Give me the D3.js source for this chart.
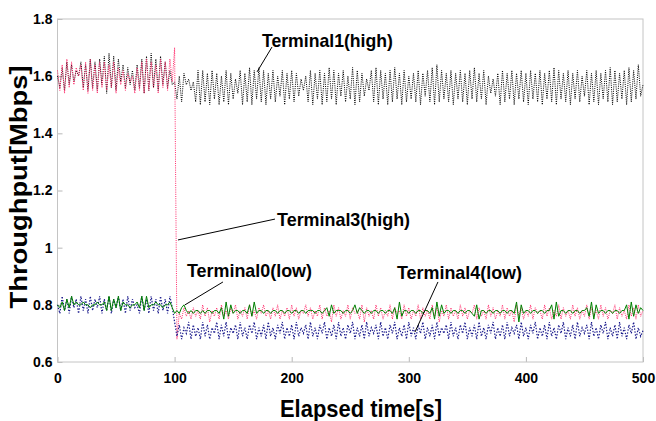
<!DOCTYPE html>
<html>
<head>
<meta charset="utf-8">
<script src="https://cdn.jsdelivr.net/npm/d3@7"></script>
<style>
  body { margin: 0; background: #fff; }
  svg { display: block; font-family: "Liberation Sans", Arial, sans-serif; }
</style>
</head>
<body>
<svg id="chart" width="656" height="421"></svg>
<script>
// throughput per terminal, sampled every 2 s from 0 to 500 s

var times = d3.range(0, 501, 2)

var terminal1 = [
  1.60,1.56,1.63,1.55,1.65,1.57,1.64,1.58,1.62,1.60,
  1.65,1.56,1.64,1.55,1.66,1.56,1.65,1.55,1.66,1.57,
  1.67,1.54,1.68,1.56,1.67,1.55,1.66,1.58,1.64,1.56,
  1.63,1.57,1.62,1.55,1.64,1.56,1.66,1.54,1.67,1.55,
  1.68,1.56,1.66,1.55,1.67,1.57,1.65,1.56,1.62,1.57,
  1.58,1.52,1.60,1.51,1.61,1.57,1.59,1.55,1.58,1.51,
  1.62,1.50,1.62,1.51,1.61,1.50,1.62,1.52,1.61,1.50,
  1.60,1.51,1.62,1.50,1.61,1.52,1.59,1.54,1.62,1.50,
  1.61,1.51,1.63,1.50,1.62,1.52,1.63,1.51,1.62,1.50,
  1.61,1.52,1.62,1.51,1.60,1.53,1.62,1.50,1.61,1.52,
  1.62,1.51,1.61,1.53,1.59,1.55,1.60,1.51,1.62,1.50,
  1.61,1.52,1.62,1.50,1.61,1.51,1.63,1.52,1.62,1.50,
  1.61,1.53,1.62,1.51,1.60,1.52,1.63,1.50,1.62,1.51,
  1.61,1.53,1.59,1.55,1.62,1.51,1.63,1.50,1.62,1.52,
  1.61,1.50,1.62,1.51,1.63,1.52,1.61,1.50,1.62,1.51,
  1.60,1.52,1.61,1.51,1.62,1.50,1.61,1.53,1.62,1.51,
  1.63,1.50,1.64,1.51,1.62,1.52,1.61,1.51,1.62,1.50,
  1.61,1.52,1.62,1.51,1.61,1.50,1.62,1.52,1.63,1.51,
  1.61,1.52,1.62,1.50,1.60,1.54,1.59,1.53,1.61,1.50,
  1.62,1.51,1.61,1.52,1.62,1.50,1.61,1.52,1.62,1.51,
  1.61,1.50,1.62,1.52,1.61,1.51,1.62,1.50,1.61,1.52,
  1.62,1.51,1.63,1.50,1.62,1.52,1.61,1.51,1.62,1.50,
  1.61,1.52,1.62,1.51,1.60,1.53,1.62,1.50,1.61,1.51,
  1.62,1.50,1.61,1.52,1.62,1.51,1.63,1.50,1.62,1.51,
  1.61,1.52,1.62,1.50,1.63,1.51,1.62,1.52,1.64,1.53,
  1.57]

var terminal3 = [
  1.62,1.55,1.64,1.54,1.66,1.56,1.65,1.57,1.63,1.60,
  1.64,1.55,1.65,1.54,1.66,1.55,1.64,1.54,1.65,1.56,
  1.65,1.55,1.64,1.56,1.65,1.54,1.63,1.57,1.62,1.55,
  1.61,1.58,1.60,1.54,1.63,1.55,1.65,1.54,1.66,1.55,
  1.65,1.56,1.64,1.54,1.66,1.56,1.65,1.55,1.66,1.58,
  1.70,0.68,0.77,0.75,0.79,0.76,0.78,0.75,0.79,0.76,
  0.78,0.75,0.80,0.76,0.79,0.74,0.78,0.76,0.79,0.75,
  0.80,0.76,0.78,0.75,0.79,0.77,0.80,0.75,0.78,0.76,
  0.79,0.75,0.80,0.76,0.78,0.75,0.79,0.77,0.80,0.76,
  0.78,0.75,0.79,0.76,0.80,0.75,0.78,0.76,0.79,0.75,
  0.80,0.76,0.79,0.75,0.78,0.77,0.80,0.76,0.79,0.75,
  0.78,0.76,0.80,0.75,0.79,0.76,0.78,0.74,0.80,0.76,
  0.79,0.75,0.78,0.76,0.80,0.75,0.79,0.77,0.78,0.75,
  0.80,0.74,0.79,0.76,0.78,0.75,0.80,0.76,0.79,0.75,
  0.78,0.76,0.80,0.75,0.79,0.77,0.78,0.75,0.80,0.76,
  0.79,0.75,0.78,0.76,0.80,0.75,0.79,0.76,0.78,0.75,
  0.80,0.76,0.79,0.74,0.78,0.76,0.80,0.75,0.79,0.76,
  0.78,0.75,0.80,0.76,0.79,0.75,0.78,0.77,0.80,0.75,
  0.79,0.76,0.78,0.75,0.80,0.76,0.79,0.75,0.78,0.76,
  0.80,0.75,0.79,0.76,0.78,0.74,0.80,0.76,0.79,0.75,
  0.78,0.76,0.80,0.75,0.79,0.77,0.78,0.75,0.80,0.76,
  0.79,0.75,0.78,0.76,0.80,0.75,0.79,0.76,0.78,0.75,
  0.80,0.76,0.79,0.75,0.78,0.76,0.80,0.75,0.79,0.76,
  0.78,0.75,0.80,0.76,0.79,0.75,0.78,0.77,0.80,0.75,
  0.79,0.76,0.78,0.75,0.80,0.76,0.79,0.75,0.80,0.76,
  0.78]

var terminal0 = [
  0.80,0.79,0.81,0.78,0.82,0.79,0.83,0.80,0.81,0.80,
  0.80,0.81,0.80,0.80,0.79,0.80,0.80,0.81,0.80,0.80,
  0.81,0.78,0.83,0.78,0.82,0.79,0.83,0.78,0.81,0.80,
  0.80,0.79,0.80,0.80,0.81,0.79,0.83,0.78,0.83,0.79,
  0.80,0.80,0.81,0.80,0.80,0.79,0.80,0.80,0.81,0.79,
  0.77,0.78,0.77,0.79,0.80,0.78,0.77,0.78,0.77,0.78,
  0.78,0.77,0.78,0.77,0.78,0.78,0.77,0.78,0.78,0.77,
  0.79,0.75,0.81,0.76,0.80,0.77,0.78,0.78,0.77,0.78,
  0.78,0.77,0.80,0.76,0.81,0.77,0.78,0.78,0.77,0.78,
  0.78,0.77,0.78,0.78,0.77,0.78,0.78,0.77,0.78,0.78,
  0.77,0.78,0.78,0.77,0.78,0.78,0.77,0.78,0.78,0.78,
  0.77,0.78,0.78,0.77,0.78,0.79,0.76,0.80,0.77,0.78,
  0.78,0.78,0.77,0.78,0.78,0.77,0.78,0.80,0.77,0.79,
  0.78,0.77,0.78,0.78,0.77,0.78,0.78,0.77,0.78,0.78,
  0.77,0.78,0.78,0.77,0.79,0.75,0.81,0.76,0.78,0.78,
  0.77,0.78,0.78,0.77,0.78,0.78,0.77,0.78,0.78,0.77,
  0.79,0.75,0.81,0.76,0.80,0.77,0.78,0.78,0.77,0.78,
  0.78,0.77,0.78,0.78,0.77,0.78,0.78,0.77,0.76,0.80,
  0.75,0.78,0.78,0.77,0.78,0.78,0.77,0.78,0.78,0.77,
  0.78,0.78,0.77,0.78,0.78,0.77,0.81,0.74,0.80,0.77,
  0.78,0.78,0.77,0.78,0.78,0.77,0.78,0.78,0.77,0.78,
  0.78,0.80,0.75,0.81,0.76,0.78,0.78,0.77,0.78,0.78,
  0.77,0.78,0.78,0.77,0.78,0.78,0.79,0.76,0.81,0.75,
  0.80,0.77,0.78,0.78,0.77,0.78,0.78,0.77,0.78,0.78,
  0.77,0.78,0.78,0.80,0.75,0.81,0.76,0.80,0.77,0.79,
  0.78]

var terminal4 = [
  0.80,0.77,0.83,0.78,0.82,0.77,0.83,0.79,0.82,0.77,
  0.83,0.78,0.82,0.77,0.83,0.78,0.82,0.79,0.83,0.77,
  0.82,0.78,0.83,0.77,0.82,0.79,0.83,0.78,0.82,0.77,
  0.83,0.78,0.82,0.79,0.80,0.77,0.83,0.78,0.82,0.77,
  0.83,0.78,0.82,0.77,0.83,0.78,0.82,0.77,0.83,0.79,
  0.74,0.69,0.73,0.68,0.72,0.70,0.74,0.68,0.73,0.69,
  0.72,0.68,0.74,0.69,0.73,0.68,0.72,0.70,0.74,0.68,
  0.73,0.69,0.74,0.68,0.72,0.70,0.73,0.68,0.74,0.69,
  0.72,0.68,0.73,0.70,0.74,0.68,0.72,0.69,0.73,0.68,
  0.74,0.69,0.72,0.68,0.73,0.70,0.74,0.68,0.72,0.69,
  0.73,0.68,0.74,0.69,0.72,0.70,0.73,0.68,0.74,0.69,
  0.72,0.68,0.73,0.70,0.74,0.68,0.72,0.69,0.73,0.68,
  0.74,0.69,0.72,0.68,0.73,0.70,0.74,0.68,0.72,0.69,
  0.73,0.68,0.74,0.69,0.72,0.70,0.73,0.68,0.74,0.69,
  0.72,0.68,0.73,0.70,0.74,0.68,0.72,0.69,0.73,0.68,
  0.74,0.69,0.72,0.68,0.73,0.70,0.74,0.68,0.72,0.69,
  0.73,0.68,0.74,0.69,0.72,0.70,0.73,0.68,0.74,0.69,
  0.72,0.68,0.73,0.70,0.74,0.68,0.72,0.69,0.73,0.68,
  0.74,0.69,0.72,0.68,0.73,0.70,0.74,0.68,0.72,0.69,
  0.73,0.68,0.74,0.69,0.72,0.70,0.73,0.68,0.74,0.69,
  0.72,0.68,0.73,0.70,0.74,0.68,0.72,0.69,0.73,0.68,
  0.74,0.69,0.72,0.68,0.73,0.70,0.74,0.68,0.72,0.69,
  0.73,0.68,0.74,0.69,0.72,0.70,0.73,0.68,0.74,0.69,
  0.72,0.68,0.73,0.70,0.74,0.68,0.72,0.69,0.73,0.68,
  0.74,0.69,0.72,0.68,0.73,0.70,0.74,0.68,0.72,0.69,
  0.71]

var xTicks = [0, 100, 200, 300, 400, 500]
var yTicks = [0.6, 0.8, 1, 1.2, 1.4, 1.6, 1.8]
var yTickLabels = ["0.6", "0.8", "1", "1.2", "1.4", "1.6", "1.8"]

// label text, label anchor [t, v], leader line [t0, v0, t1, v1]
var noteNames = ["Terminal1(high)", "Terminal3(high)", "Terminal0(low)", "Terminal4(low)"]
var noteAnchors = [[174.6, 1.702], [187.5, 1.076], [110.6, 0.897], [289.9, 0.890]]
var noteLines = [[183.2, 1.702, 170.4, 1.615], [185.7, 1.100, 102.9, 1.027],
                 [141.3, 0.880, 108.9, 0.800], [324.9, 0.880, 305.3, 0.705]]

var svg = d3.select("#chart"),
    margin = {top: 19, right: 13, bottom: 59, left: 57.5},
    width = 656 - margin.left - margin.right,
    height = 421 - margin.top - margin.bottom,
    g = svg.append("g").attr("transform", "translate(" + margin.left + "," + margin.top + ")");

var x = d3.scaleLinear().domain([0, 500]).range([0, width]);
var y = d3.scaleLinear().domain([0.6, 1.8]).range([height, 0]);

// axes with inward ticks
var xAxis = g.append("g")
    .attr("transform", "translate(0," + height + ")")
    .call(d3.axisBottom(x).tickValues(xTicks).tickSize(-5).tickPadding(11).tickFormat(d3.format("d")));
var yAxis = g.append("g")
    .call(d3.axisLeft(y).tickValues(yTicks).tickSize(-5).tickPadding(5)
          .tickFormat(function(d, i) { return yTickLabels[i] }));

[xAxis, yAxis].forEach(function(a) {
  a.select(".domain").remove();
  a.selectAll("line").attr("stroke", "#b8b8b8");
  a.selectAll("text").attr("fill", "#000").style("font-size", "14px").style("font-weight", "bold")
    .style("font-family", '"Liberation Sans", Arial, sans-serif');
});

// frame
g.append("rect").attr("width", width).attr("height", height)
    .attr("fill", "none").attr("stroke", "#c4c4c4").attr("stroke-width", 1);

var series = [
  {values: terminal1, color: "#000000", dash: "1,1.2", w: 1},
  {values: terminal3, color: "#ff2a6a", dash: "1,1.2", w: 1},
  {values: terminal4, color: "#1a1a8c", dash: "1.4,1.6", w: 1.2},
  {values: terminal0, color: "#008000", dash: null, w: 1}
];

var line = d3.line()
    .x(function(d, i) { return x(times[i]) })
    .y(function(d) { return y(d) });

g.append("g").selectAll("path")
    .data(series)
    .enter().append("path")
    .attr("d", function(d) { return line(d.values) })
    .attr("fill", "none")
    .attr("stroke", function(d) { return d.color })
    .attr("stroke-width", function(d) { return d.w })
    .attr("stroke-dasharray", function(d) { return d.dash });

// annotations
g.append("g").selectAll("line")
    .data(noteLines)
    .enter().append("line")
    .attr("x1", function(d) { return x(d[0]) }).attr("y1", function(d) { return y(d[1]) })
    .attr("x2", function(d) { return x(d[2]) }).attr("y2", function(d) { return y(d[3]) })
    .attr("stroke", "#000").attr("stroke-width", 1);

var noteWidths = [131, 133, 125, 125];
g.append("g").selectAll("text")
    .data(noteNames)
    .enter().append("text")
    .attr("x", function(d, i) { return x(noteAnchors[i][0]) })
    .attr("y", function(d, i) { return y(noteAnchors[i][1]) })
    .attr("textLength", function(d, i) { return noteWidths[i] })
    .attr("lengthAdjust", "spacingAndGlyphs")
    .style("font-size", "19px").style("font-weight", "bold")
    .text(function(d) { return d });

// axis titles
svg.append("text")
    .attr("x", 361).attr("y", 417)
    .attr("text-anchor", "middle")
    .attr("textLength", 162).attr("lengthAdjust", "spacingAndGlyphs")
    .style("font-size", "24px").style("font-weight", "bold")
    .text("Elapsed time[s]");

svg.append("text")
    .attr("transform", "translate(27,187) rotate(-90)")
    .attr("text-anchor", "middle")
    .attr("textLength", 243).attr("lengthAdjust", "spacingAndGlyphs")
    .style("font-size", "24px").style("font-weight", "bold")
    .text("Throughput[Mbps]");
</script>
</body>
</html>
